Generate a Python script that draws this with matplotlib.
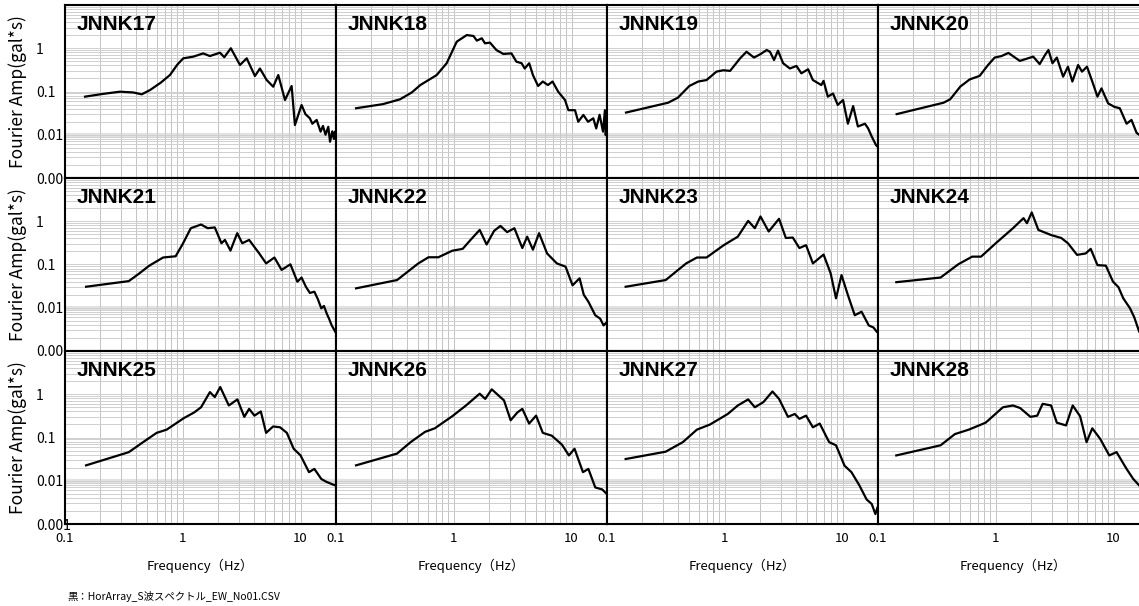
import matplotlib
matplotlib.use('Agg')
import matplotlib.pyplot as plt
from matplotlib.ticker import LogLocator, NullFormatter

plt.rcParams['font.family'] = ['Noto Sans CJK JP', 'DejaVu Sans']

# station names (row by row)
names = ['JNNK17', 'JNNK18', 'JNNK19', 'JNNK20',
         'JNNK21', 'JNNK22', 'JNNK23', 'JNNK24',
         'JNNK25', 'JNNK26', 'JNNK27', 'JNNK28']

# frequency (Hz) / Fourier amplitude (gal*s)
f17 = [0.148, 0.21, 0.293, 0.38, 0.448, 0.527, 0.65, 0.779, 0.9, 1.01, 1.23, 1.49, 1.70, 2.07, 2.25, 2.56,
       3.06, 3.49, 4.10, 4.52, 5.15, 5.86, 6.47, 7.38, 8.4, 8.96, 10.2, 11.0, 12.0, 12.6, 13.7, 14.8, 15.5,
       16.3, 17.2, 17.8, 18.6, 19.2, 19.6, 20.0]
a17 = [0.076, 0.088, 0.099, 0.095, 0.086, 0.108, 0.16, 0.241, 0.42, 0.585, 0.64, 0.76, 0.66, 0.79, 0.62, 1.0,
       0.41, 0.585, 0.228, 0.34, 0.185, 0.129, 0.24, 0.0635, 0.134, 0.0168, 0.0488, 0.030, 0.024, 0.018, 0.022,
       0.0118, 0.016, 0.010, 0.0153, 0.0069, 0.012, 0.008, 0.0118, 0.009]

f18 = [0.148, 0.25, 0.35, 0.44, 0.52, 0.716, 0.87, 1.06, 1.29, 1.47, 1.57, 1.73, 1.84, 2.03, 2.3, 2.63, 3.09,
       3.4, 3.77, 4.0, 4.37, 4.7, 5.2, 5.7, 6.3, 6.9, 7.7, 8.8, 9.4, 10.7, 11.4, 12.6, 13.8, 15.3, 16.2, 17.3,
       18.5, 19.2, 19.5, 20.0]
a18 = [0.041, 0.051, 0.066, 0.095, 0.141, 0.24, 0.45, 1.42, 2.02, 1.92, 1.5, 1.7, 1.3, 1.35, 0.91, 0.74, 0.76,
       0.49, 0.45, 0.34, 0.45, 0.24, 0.134, 0.17, 0.141, 0.17, 0.099, 0.0635, 0.037, 0.037, 0.02, 0.0287, 0.02,
       0.024, 0.014, 0.029, 0.0118, 0.037, 0.0098, 0.02]

f19 = [0.145, 0.33, 0.40, 0.5, 0.595, 0.70, 0.85, 0.97, 1.11, 1.35, 1.53, 1.77, 1.99, 2.27, 2.42, 2.62, 2.83,
       3.13, 3.57, 4.06, 4.47, 5.1, 5.6, 6.6, 6.9, 7.5, 8.3, 9.1, 10.1, 11.1, 12.3, 13.5, 15.5, 16.5, 17.6,
       19.2, 20.0]
a19 = [0.0326, 0.055, 0.072, 0.134, 0.17, 0.184, 0.288, 0.31, 0.30, 0.586, 0.83, 0.61, 0.72, 0.91, 0.83,
       0.535, 0.88, 0.45, 0.34, 0.39, 0.263, 0.327, 0.184, 0.141, 0.176, 0.076, 0.09, 0.049, 0.0635, 0.018,
       0.046, 0.0155, 0.018, 0.014, 0.0094, 0.0058, 0.0052]

f20 = [0.144, 0.36, 0.41, 0.5, 0.6, 0.73, 0.86, 0.98, 1.12, 1.28, 1.6, 2.08, 2.36, 2.62, 2.8, 3.03, 3.3, 3.73,
       4.1, 4.47, 5.0, 5.4, 5.95, 6.6, 7.3, 7.9, 9.0, 10.2, 11.3, 12.9, 14.2, 15.7, 17.5, 20.0]
a20 = [0.030, 0.055, 0.066, 0.13, 0.19, 0.23, 0.41, 0.61, 0.66, 0.78, 0.51, 0.64, 0.43, 0.70, 0.91, 0.45,
       0.61, 0.22, 0.375, 0.17, 0.41, 0.288, 0.375, 0.17, 0.076, 0.118, 0.053, 0.044, 0.041, 0.018, 0.022,
       0.011, 0.009, 0.007]

f21 = [0.151, 0.348, 0.42, 0.52, 0.68, 0.87, 1.0, 1.17, 1.43, 1.63, 1.87, 2.13, 2.28, 2.54, 2.9, 3.2, 3.66,
       4.46, 5.1, 6.0, 6.9, 8.2, 9.4, 10.2, 11.1, 12.0, 13.1, 14.0, 15.0, 15.8, 16.7, 17.5, 18.4, 19.7]
a21 = [0.0306, 0.0413, 0.06, 0.094, 0.145, 0.155, 0.3, 0.69, 0.84, 0.69, 0.72, 0.31, 0.37, 0.21, 0.53, 0.31,
       0.37, 0.18, 0.106, 0.145, 0.075, 0.101, 0.04, 0.05, 0.0306, 0.022, 0.0235, 0.016, 0.0097, 0.011,
       0.0073, 0.0055, 0.0039, 0.0028]

f22 = [0.148, 0.33, 0.5, 0.61, 0.74, 0.97, 1.19, 1.4, 1.66, 1.9, 2.2, 2.49, 2.84, 3.27, 3.82, 4.2, 4.7, 5.3,
       6.2, 7.5, 8.9, 10.2, 11.7, 12.7, 13.9, 15.9, 17.5, 18.7, 20.0]
a22 = [0.0281, 0.0437, 0.106, 0.147, 0.147, 0.208, 0.23, 0.38, 0.63, 0.29, 0.6, 0.78, 0.56, 0.69, 0.24,
       0.44, 0.22, 0.53, 0.18, 0.106, 0.089, 0.033, 0.048, 0.02, 0.0138, 0.0067, 0.0056, 0.0039, 0.0047]

f23 = [0.144, 0.315, 0.47, 0.58, 0.70, 0.98, 1.29, 1.58, 1.8, 2.01, 2.36, 2.89, 3.3, 3.78, 4.3, 4.9, 5.6,
       6.9, 7.93, 8.8, 9.8, 11.1, 12.7, 14.5, 16.7, 18.3, 19.5]
a23 = [0.0306, 0.0437, 0.106, 0.145, 0.145, 0.28, 0.44, 1.02, 0.69, 1.29, 0.58, 1.14, 0.41, 0.42, 0.24,
       0.28, 0.106, 0.17, 0.062, 0.0165, 0.057, 0.0197, 0.0067, 0.0081, 0.0039, 0.0035, 0.0028]

f24 = [0.143, 0.34, 0.48, 0.63, 0.75, 1.0, 1.4, 1.72, 1.84, 2.02, 2.3, 2.95, 3.6, 4.1, 4.9, 5.8, 6.4, 7.3,
       8.6, 9.9, 11.0, 12.1, 13.8, 15.0, 16.5, 18.5]
a24 = [0.039, 0.050, 0.101, 0.152, 0.152, 0.31, 0.69, 1.18, 0.9, 1.6, 0.63, 0.48, 0.41, 0.31, 0.167, 0.18,
       0.23, 0.097, 0.094, 0.04, 0.03, 0.0165, 0.0097, 0.006, 0.0028, 0.002]

f25 = [0.151, 0.348, 0.46, 0.6, 0.73, 1.02, 1.25, 1.43, 1.7, 1.87, 2.08, 2.46, 2.91, 3.33, 3.66, 4.06, 4.6,
       5.1, 5.85, 6.7, 7.65, 8.74, 10.0, 11.8, 13.1, 15.0, 16.5, 18.4, 19.7]
a25 = [0.0227, 0.0458, 0.078, 0.128, 0.152, 0.28, 0.38, 0.50, 1.12, 0.86, 1.47, 0.55, 0.76, 0.3, 0.46,
       0.32, 0.4, 0.128, 0.18, 0.172, 0.128, 0.055, 0.0385, 0.0158, 0.0188, 0.011, 0.0095, 0.0084, 0.0078]

f26 = [0.148, 0.33, 0.43, 0.57, 0.69, 0.97, 1.27, 1.66, 1.85, 2.1, 2.67, 3.04, 3.47, 3.82, 4.36, 5.0, 5.7,
       6.8, 8.3, 9.5, 10.6, 12.5, 13.9, 15.9, 18.2, 20.0]
a26 = [0.0227, 0.0425, 0.078, 0.135, 0.163, 0.31, 0.55, 1.03, 0.78, 1.3, 0.72, 0.25, 0.38, 0.46, 0.21,
       0.32, 0.128, 0.11, 0.068, 0.0385, 0.055, 0.0158, 0.0188, 0.007, 0.0063, 0.0049]

f27 = [0.144, 0.315, 0.44, 0.58, 0.75, 1.06, 1.29, 1.58, 1.8, 2.13, 2.54, 2.89, 3.44, 3.93, 4.3, 4.9, 5.6,
       6.4, 7.7, 8.8, 10.4, 11.9, 13.9, 16.0, 17.7, 19.0, 19.8]
a27 = [0.0318, 0.047, 0.078, 0.152, 0.2, 0.35, 0.55, 0.76, 0.5, 0.66, 1.16, 0.78, 0.3, 0.35, 0.27, 0.32,
       0.172, 0.21, 0.078, 0.066, 0.0223, 0.0158, 0.0078, 0.0037, 0.0029, 0.0017, 0.0024]

f28 = [0.143, 0.34, 0.45, 0.59, 0.82, 1.15, 1.4, 1.61, 1.97, 2.25, 2.5, 2.95, 3.3, 3.95, 4.5, 5.2, 5.9,
       6.6, 7.7, 9.2, 10.6, 12.9, 14.7, 16.5, 18.5]
a28 = [0.0385, 0.066, 0.12, 0.152, 0.22, 0.5, 0.55, 0.48, 0.3, 0.32, 0.6, 0.55, 0.22, 0.19, 0.55, 0.31,
       0.078, 0.163, 0.093, 0.0385, 0.046, 0.0188, 0.011, 0.0078, 0.006]

freqs = [f17, f18, f19, f20, f21, f22, f23, f24, f25, f26, f27, f28]
amps = [a17, a18, a19, a20, a21, a22, a23, a24, a25, a26, a27, a28]

xticks = [0.1, 1, 10]
xticklabels = ['0.1', '1', '10']
yticks = [0.001, 0.01, 0.1, 1]

W, H = 1139, 606
fig = plt.figure(figsize=(W / 100, H / 100), dpi=100)

for i, name in enumerate(names):
    r, c = divmod(i, 4)
    left, top = 65 + 271 * c, 5 + 173 * r
    ax = fig.add_axes([left / W, 1 - (top + 173) / H, 271 / W, 173 / H])
    ax.set_xscale('log')
    ax.set_yscale('log')
    ax.set_xlim(0.1, 20)
    ax.set_ylim(0.001, 10)
    ax.axhline(0.01, color='#e2e2e2', lw=3, zorder=0.5)
    ax.plot(freqs[i], amps[i], color='black', lw=1.6, zorder=3)

    ax.xaxis.set_minor_locator(LogLocator(base=10, subs=range(2, 10)))
    ax.yaxis.set_minor_locator(LogLocator(base=10, subs=range(2, 10)))
    ax.xaxis.set_minor_formatter(NullFormatter())
    ax.yaxis.set_minor_formatter(NullFormatter())
    ax.grid(True, which='both', axis='x', color='#c4c4c4', lw=0.7)
    ax.grid(True, which='both', axis='y', color='#cfcfcf', lw=0.7)
    ax.set_axisbelow(True)
    for s in ax.spines.values():
        s.set_linewidth(1.5)
    ax.tick_params(which='both', length=0)

    if r == 2:
        ax.set_xticks(xticks, labels=xticklabels)
        ax.tick_params(axis='x', pad=6, labelsize=9.5)
        ax.text(0.5, -42 / 173, 'Frequency（Hz）', transform=ax.transAxes,
                ha='center', va='center', fontsize=9.5)
    else:
        ax.set_xticks(xticks, labels=[''] * 3)

    if c == 0:
        lowest = '0.001' if r == 2 else '0.00'
        ax.set_yticks(yticks, labels=[lowest, '0.01', '0.1', '1'])
        ax.tick_params(axis='y', pad=21, labelsize=10)
        for lab in ax.get_yticklabels():
            lab.set_horizontalalignment('left')
        fig.text(18 / W, 1 - (top + 86.5) / H, 'Fourier Amp(gal*s)', rotation=90,
                 ha='center', va='center', fontsize=12.5)
    else:
        ax.set_yticks(yticks, labels=[''] * 4)

    ax.text(12 / 271, 1 - 10 / 173, name, transform=ax.transAxes, va='top', ha='left',
            fontsize=15, fontweight='bold', family='Liberation Sans', zorder=5)

fig.text(67 / W, 1 - 596 / H, '黒：HorArray_S波スペクトル_EW_No01.CSV', ha='left', va='center', fontsize=7.5)

fig.savefig('out.png', dpi=100)
